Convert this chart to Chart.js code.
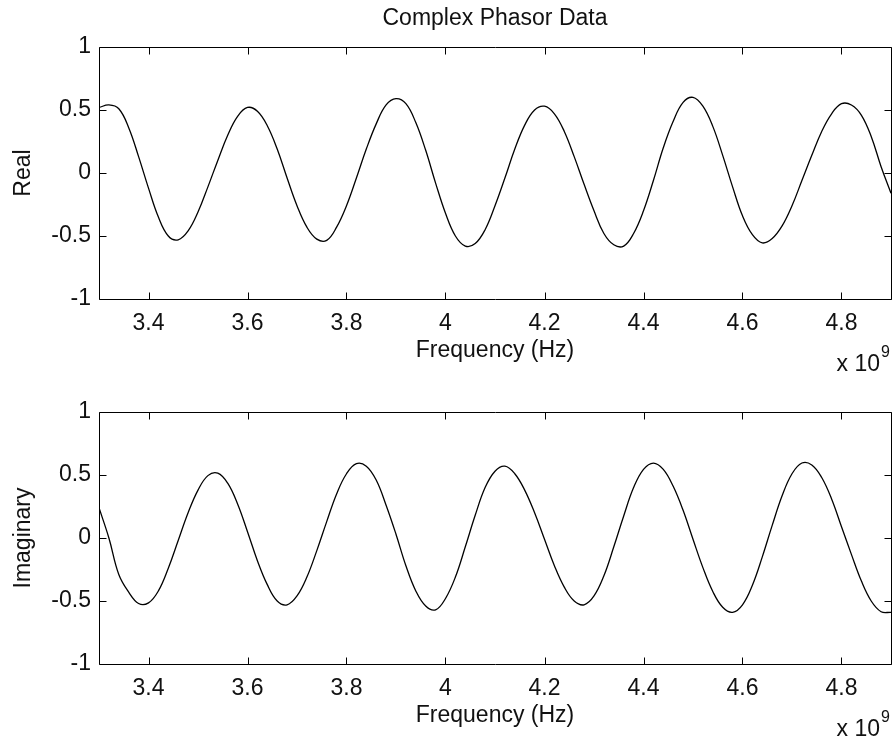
<!DOCTYPE html>
<html>
<head>
<meta charset="utf-8">
<script src="https://cdn.jsdelivr.net/npm/chart.js@4.4.1/dist/chart.umd.min.js"></script>
<style>
  html, body { margin: 0; padding: 0; background: #fff; }
  #wrap { position: relative; width: 895px; height: 740px; }
  canvas { position: absolute; left: 0; }
</style>
</head>
<body>
<div id="wrap">
  <canvas id="realChart" width="895" height="380" style="top:0"></canvas>
  <canvas id="imagChart" width="895" height="360" style="top:380px"></canvas>
</div>
<script>
// frequency in units of 10^9 Hz
const freq = [
  3.30, 3.32, 3.34, 3.36, 3.38, 3.40, 3.42, 3.44, 3.46, 3.48,
  3.50, 3.52, 3.54, 3.56, 3.58, 3.60, 3.62, 3.64, 3.66, 3.68,
  3.70, 3.72, 3.74, 3.76, 3.78, 3.80, 3.82, 3.84, 3.86, 3.88,
  3.90, 3.92, 3.94, 3.96, 3.98, 4.00, 4.02, 4.04, 4.06, 4.08,
  4.10, 4.12, 4.14, 4.16, 4.18, 4.20, 4.22, 4.24, 4.26, 4.28,
  4.30, 4.32, 4.34, 4.36, 4.38, 4.40, 4.42, 4.44, 4.46, 4.48,
  4.50, 4.52, 4.54, 4.56, 4.58, 4.60, 4.62, 4.64, 4.66, 4.68,
  4.70, 4.72, 4.74, 4.76, 4.78, 4.80, 4.82, 4.84, 4.86, 4.88,
  4.90
];

const realPart = [
  0.52, 0.54, 0.51, 0.36, 0.13, -0.12, -0.35, -0.50, -0.53, -0.46,
  -0.31, -0.11, 0.10, 0.30, 0.45, 0.52, 0.49, 0.375, 0.19, -0.04,
  -0.26, -0.43, -0.525, -0.535, -0.43, -0.26, -0.04, 0.19, 0.39, 0.54,
  0.59, 0.55, 0.40, 0.18, -0.08, -0.32, -0.50, -0.58, -0.56, -0.45,
  -0.26, -0.04, 0.19, 0.38, 0.50, 0.53, 0.47, 0.33, 0.13, -0.09,
  -0.30, -0.48, -0.57, -0.58, -0.48, -0.30, -0.06, 0.20, 0.41, 0.56,
  0.60, 0.53, 0.37, 0.14, -0.11, -0.34, -0.49, -0.555, -0.52, -0.42,
  -0.26, -0.06, 0.14, 0.33, 0.47, 0.55, 0.54, 0.46, 0.29, 0.05,
  -0.16
];

const imagPart = [
  0.24, 0.00, -0.29, -0.43, -0.52, -0.515, -0.42, -0.24, -0.02, 0.20,
  0.38, 0.495, 0.515, 0.435, 0.27, 0.05, -0.18, -0.37, -0.50, -0.53,
  -0.46, -0.31, -0.10, 0.13, 0.35, 0.51, 0.59, 0.57, 0.46, 0.26,
  0.03, -0.22, -0.42, -0.54, -0.57, -0.48, -0.31, -0.07, 0.18, 0.40,
  0.53, 0.57, 0.51, 0.38, 0.20, -0.01, -0.22, -0.39, -0.50, -0.53,
  -0.46, -0.30, -0.07, 0.175, 0.40, 0.545, 0.595, 0.545, 0.41, 0.22,
  -0.01, -0.235, -0.425, -0.55, -0.59, -0.53, -0.375, -0.15, 0.10, 0.335,
  0.51, 0.595, 0.58, 0.48, 0.31, 0.09, -0.13, -0.34, -0.50, -0.585,
  -0.59
];

const xTicks = [3.4, 3.6, 3.8, 4.0, 4.2, 4.4, 4.6, 4.8];
const yTicks = [-1, -0.5, 0, 0.5, 1];

const FONT = '"Liberation Sans", Arial, sans-serif';
const INK = '#111';

// MATLAB style box with inward ticks on all four sides + the "x 10^9" note
const boxTicks = {
  id: 'boxTicks',
  afterDraw(chart) {
    const { ctx, chartArea: a, scales: { x, y } } = chart;
    const L = Math.round(a.left) + 0.5, R = Math.round(a.right) + 0.5;
    const T = Math.round(a.top) + 0.5, B = Math.round(a.bottom) + 0.5;
    const len = 7;
    ctx.save();
    ctx.strokeStyle = '#000';
    ctx.lineWidth = 1;
    ctx.beginPath();
    ctx.rect(L, T, R - L, B - T);
    x.ticks.forEach(t => {
      const px = Math.round(x.getPixelForValue(t.value)) + 0.5;
      ctx.moveTo(px, B); ctx.lineTo(px, B - len);
      ctx.moveTo(px, T); ctx.lineTo(px, T + len);
    });
    y.ticks.forEach(t => {
      const py = Math.round(y.getPixelForValue(t.value)) + 0.5;
      ctx.moveTo(L, py); ctx.lineTo(L + len, py);
      ctx.moveTo(R, py); ctx.lineTo(R - len, py);
    });
    ctx.stroke();

    ctx.fillStyle = INK;
    ctx.textBaseline = 'alphabetic';
    ctx.textAlign = 'right';
    ctx.font = '23px ' + FONT;
    ctx.fillText('x 10', a.right - 11, a.bottom + 72);
    ctx.textAlign = 'left';
    ctx.font = '16px ' + FONT;
    ctx.fillText('9', a.right - 10, a.bottom + 58);
    ctx.restore();
  }
};

function makeChart(id, values, yLabel, opts) {
  const canvas = document.getElementById(id);
  return new Chart(canvas.getContext('2d'), {
    type: 'line',
    data: {
      datasets: [{
        data: freq.map((f, i) => ({ x: f, y: values[i] })),
        borderColor: '#000',
        borderWidth: 1.3,
        pointRadius: 0,
        fill: false,
        tension: 0.4
      }]
    },
    options: {
      responsive: false,
      animation: false,
      events: [],
      layout: { padding: { top: opts.padTop, right: 4, bottom: 0, left: 0 } },
      plugins: {
        legend: { display: false },
        tooltip: { enabled: false },
        title: {
          display: !!opts.title,
          text: opts.title || '',
          color: INK,
          fullSize: false,
          font: { family: FONT, size: 23, weight: 'normal', lineHeight: 1.2 },
          padding: { top: 5, bottom: 14.4 }
        }
      },
      scales: {
        x: {
          type: 'linear',
          min: 3.3,
          max: 4.9,
          grid: { display: false, drawTicks: false },
          border: { display: false },
          afterBuildTicks: s => { s.ticks = xTicks.map(v => ({ value: v })); },
          afterFit: s => { s.height = opts.xHeight; },
          ticks: {
            color: INK,
            padding: 11,
            maxRotation: 0,
            font: { family: FONT, size: 23 },
            callback: v => String(+v.toFixed(1))
          },
          title: {
            display: true,
            text: 'Frequency (Hz)',
            color: INK,
            font: { family: FONT, size: 23, lineHeight: 1.2 },
            padding: { top: 0, bottom: opts.xTitlePad }
          }
        },
        y: {
          min: -1,
          max: 1,
          grid: { display: false, drawTicks: false },
          border: { display: false },
          afterBuildTicks: s => { s.ticks = yTicks.map(v => ({ value: v })); },
          afterFit: s => { s.width = 99; },
          ticks: {
            color: INK,
            padding: 8,
            font: { family: FONT, size: 23 },
            callback: v => String(v)
          },
          title: {
            display: true,
            text: yLabel,
            color: INK,
            font: { family: FONT, size: 23, lineHeight: 1.2 },
            padding: { top: 10, bottom: 0 }
          }
        }
      }
    },
    plugins: [boxTicks]
  });
}

makeChart('realChart', realPart, 'Real', {
  title: 'Complex Phasor Data', padTop: 0, xHeight: 81, xTitlePad: 16
});
makeChart('imagChart', imagPart, 'Imaginary', {
  title: null, padTop: 32, xHeight: 76, xTitlePad: 11
});
</script>
</body>
</html>
